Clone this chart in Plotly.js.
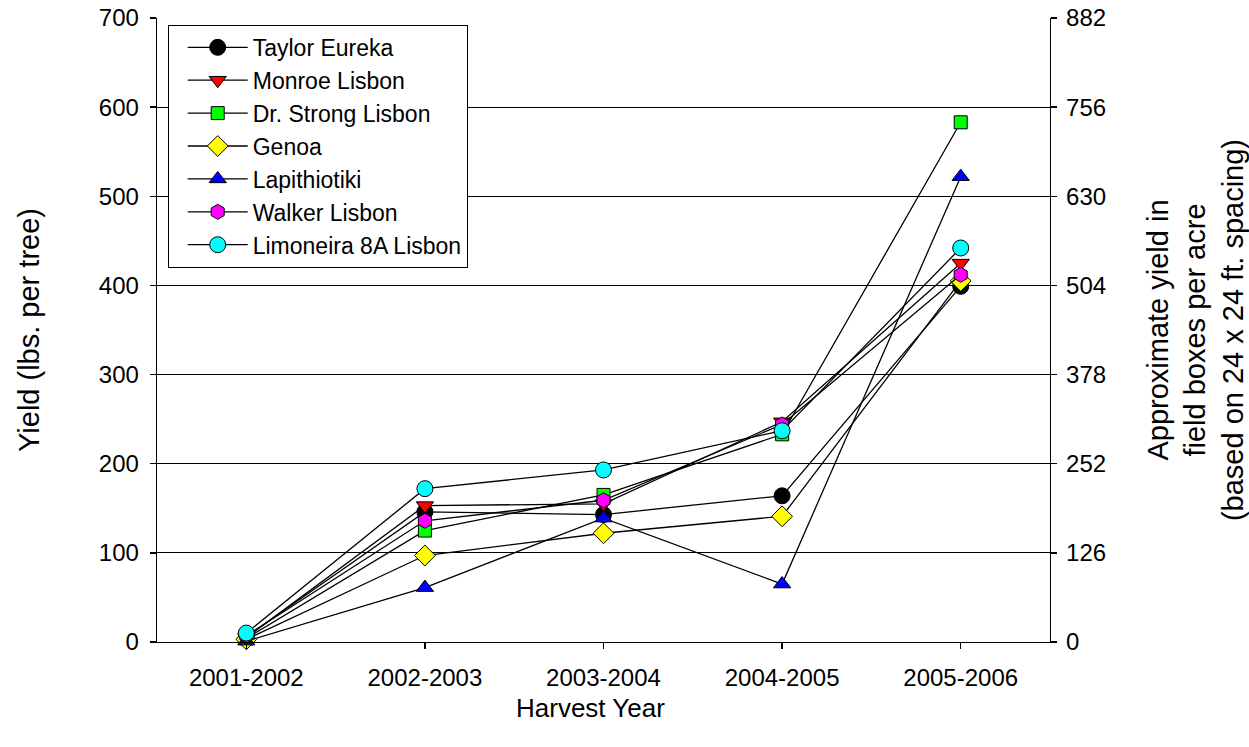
<!DOCTYPE html>
<html>
<head>
<meta charset="utf-8">
<script src="https://cdn.plot.ly/plotly-3.0.1.min.js"></script>
<style>html,body{margin:0;padding:0;background:#fff;}#chart{width:1249px;height:747px;}</style>
</head>
<body>
<div id="chart"></div>
<script>
const harvestYears = ["2001-2002", "2002-2003", "2003-2004", "2004-2005", "2005-2006"];
const taylorEureka = [6, 146, 143, 164, 399];
const monroeLisbon = [5, 153, 155, 247, 425];
const drStrongLisbon = [4, 125, 165, 233, 583];
const genoa = [3, 97, 122, 141, 405];
const lapithiotiki = [1, 61, 139, 65, 522];
const walkerLisbon = [7, 136, 159, 244, 412];
const limoneira8ALisbon = [10, 172, 193, 237, 442];
const leftTicks = [0, 100, 200, 300, 400, 500, 600, 700];
const rightTicks = [0, 126, 252, 378, 504, 630, 756, 882];

const seriesDefs = [
  {name: "Taylor Eureka", y: taylorEureka, symbol: "circle", color: "#000000", size: 16},
  {name: "Monroe Lisbon", y: monroeLisbon, symbol: "triangle-down", color: "#ff0000", size: 15},
  {name: "Dr. Strong Lisbon", y: drStrongLisbon, symbol: "square", color: "#00ff00", size: 13},
  {name: "Genoa", y: genoa, symbol: "diamond", color: "#ffff00", size: 16},
  {name: "Lapithiotiki", y: lapithiotiki, symbol: "triangle-up", color: "#0000ff", size: 15},
  {name: "Walker Lisbon", y: walkerLisbon, symbol: "hexagon", color: "#ff00ff", size: 15},
  {name: "Limoneira 8A Lisbon", y: limoneira8ALisbon, symbol: "circle", color: "#00ffff", size: 16}
];

const traces = seriesDefs.map(s => ({
  type: "scatter",
  mode: "lines+markers",
  name: s.name,
  x: harvestYears,
  y: s.y,
  line: {color: "#000000", width: 1.3},
  marker: {symbol: s.symbol, color: s.color, size: s.size, line: {color: "#000000", width: 1}},
  cliponaxis: false
}));

traces.push({
  type: "scatter", mode: "markers", x: harvestYears, y: [null, null, null, null, null],
  yaxis: "y2", showlegend: false, hoverinfo: "skip"
});

const font = {family: "Liberation Sans, Arial, sans-serif", color: "#000000"};
const f = (size) => Object.assign({}, font, {size: size});

const layout = {
  width: 1249, height: 747,
  margin: {l: 157, r: 199, t: 18, b: 105},
  paper_bgcolor: "#ffffff", plot_bgcolor: "#ffffff",
  font: f(24),
  showlegend: true,
  legend: {
    x: 0.012, y: 0.989, xanchor: "left", yanchor: "top",
    bgcolor: "#ffffff", bordercolor: "#000000", borderwidth: 1,
    font: f(23), indentation: 14,
    tracegroupgap: 0, itemwidth: 60
  },
  annotations: [{
    text: "Harvest Year", xref: "paper", yref: "paper",
    x: 0.486, y: -0.106, xanchor: "center", yanchor: "middle",
    showarrow: false, font: f(26)
  }],
  xaxis: {
    type: "category", range: [-0.5, 4.5],
    tickvals: harvestYears, ticktext: harvestYears,
    showline: true, linecolor: "#000000", linewidth: 1.3,
    ticks: "outside", ticklen: 6, tickcolor: "#000000", tickwidth: 1.3,
    ticklabelstandoff: 8,
    showgrid: false, zeroline: false,
    tickfont: f(24)
  },
  yaxis: {
    range: [0, 700], tickvals: leftTicks, ticktext: leftTicks.map(String),
    showline: true, linecolor: "#000000", linewidth: 1.3,
    ticks: "outside", ticklen: 6, tickcolor: "#000000", tickwidth: 1.3,
    ticklabelstandoff: 6,
    showgrid: true, gridcolor: "#000000", gridwidth: 1,
    zeroline: false,
    tickfont: f(24),
    title: {text: "Yield (lbs. per tree)", font: f(29), standoff: 50}
  },
  yaxis2: {
    overlaying: "y", side: "right", range: [0, 882],
    tickvals: rightTicks, ticktext: rightTicks.map(String),
    showline: true, linecolor: "#000000", linewidth: 1.3,
    ticks: "outside", ticklen: 6, tickcolor: "#000000", tickwidth: 1.3,
    ticklabelstandoff: 4,
    showgrid: false, zeroline: false,
    tickfont: f(24),
    title: {text: "Approximate yield in<br>field boxes per acre<br>(based on 24 x 24 ft. spacing)", font: f(29), standoff: 42}
  }
};

Plotly.newPlot("chart", traces, layout, {displayModeBar: false, staticPlot: true});
</script>
</body>
</html>
